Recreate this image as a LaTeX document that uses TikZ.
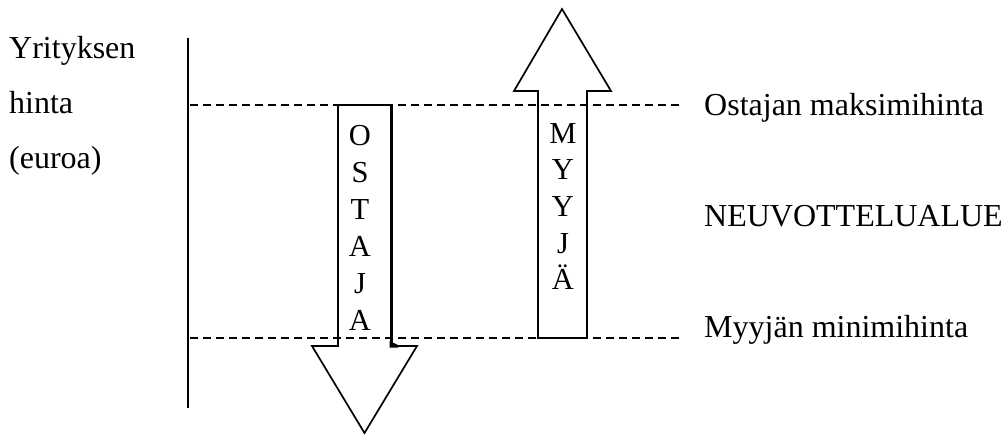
\documentclass[tikz,border=0pt]{standalone}
\usepackage{fontspec}
\setmainfont{Liberation Serif}
\begin{document}
\begin{tikzpicture}[x=1pt,y=-1pt,line join=miter,
  lbl/.style={inner sep=0pt,anchor=base west,font=\fontsize{32}{36}\selectfont},
  ltr/.style={inner sep=0pt,anchor=base,font=\fontsize{30.5}{36}\selectfont},
  guide/.style={dash pattern=on 8pt off 5pt,line width=1.2pt},
  outline/.style={line width=1.7pt}]
\useasboundingbox (0,0) rectangle (1005,437);
% axis
\coordinate (axtop) at (188,38);
\coordinate (axbot) at (188,408);
\draw[line width=1.7pt] (axtop) -- (axbot);
% guide lines
\coordinate (maxL) at (190,105);
\coordinate (maxR) at (680,105);
\coordinate (minL) at (190,338);
\coordinate (minR) at (680,338);
\draw[guide] (maxL) -- (maxR);
\draw[guide] (minL) -- (minR);
% left labels
\node[lbl] (y1) at (9,58) {Yrityksen};
\node[lbl] (y2) at (9,113) {hinta};
\node[lbl] (y3) at (9,168) {(euroa)};
% right labels
\node[lbl] (r1) at (704,115) {Ostajan maksimihinta};
\node[lbl] (r2) at (704,226) {NEUVOTTELUALUE};
\node[lbl] (r3) at (704,337) {Myyjän minimihinta};
% buyer arrow (down)
\draw[outline] (338,105) -- (391,105) -- (391,346) -- (417,346) -- (364.5,433)
  -- (312,346) -- (338,346) -- cycle;
\draw[line width=3pt] (391,105) -- (391,346);
\fill (389.5,341) -- (398,345) -- (398,347.5) -- (389.5,347.5) -- cycle;
% seller arrow (up)
\draw[outline] (538,338) -- (587,338) -- (587,91) -- (611,91) -- (562,9)
  -- (514,91) -- (538,91) -- cycle;
% letters
\foreach \l [count=\i] in {O,S,T,A,J,A}
  \node[ltr] (o\i) at (360,{145+37*(\i-1)}) {\l};
\foreach \l [count=\i] in {M,Y,Y,J,Ä}
  \node[ltr] (m\i) at (563,{143+36.7*(\i-1)}) {\l};
\end{tikzpicture}
\end{document}
